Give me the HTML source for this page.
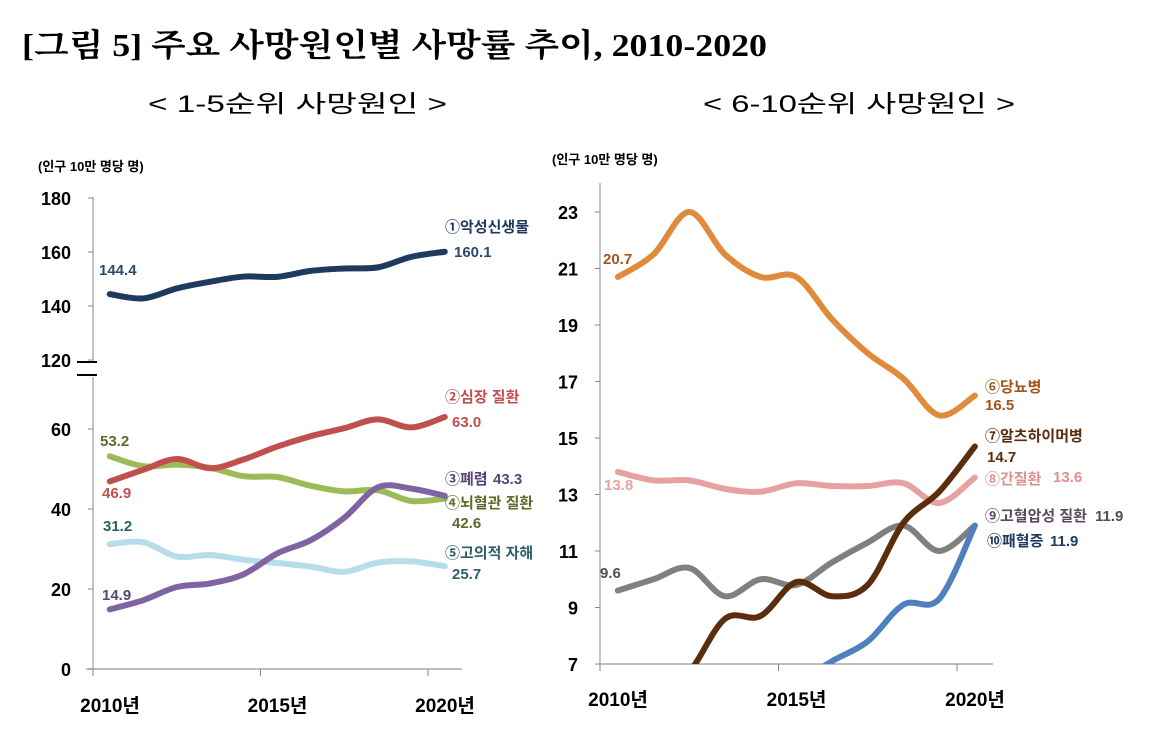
<!DOCTYPE html>
<html><head><meta charset="utf-8"><style>
html,body{margin:0;padding:0;background:#fff;}
svg{display:block;font-family:"Liberation Sans","Noto Sans CJK KR",sans-serif;}
</style></head><body>
<svg id="chart" width="1149" height="747" viewBox="0 0 1149 747" xmlns="http://www.w3.org/2000/svg">
<text x="22" y="56" font-size="32" font-weight="bold" textLength="745" lengthAdjust="spacingAndGlyphs" font-family="Liberation Serif, Noto Serif CJK SC, serif">[그림 5] 주요 사망원인별 사망률 추이, 2010-2020</text>
<text x="148" y="112" font-size="24" textLength="299" lengthAdjust="spacingAndGlyphs">&lt; 1-5순위 사망원인 &gt;</text>
<text x="703" y="112" font-size="24" textLength="312" lengthAdjust="spacingAndGlyphs">&lt; 6-10순위 사망원인 &gt;</text>
<text x="38" y="171" font-size="13" font-weight="bold">(인구 10만 명당 명)</text>
<text x="552" y="164" font-size="13" font-weight="bold">(인구 10만 명당 명)</text>
<g id="left"></g>
<g id="right"></g>
<defs><clipPath id="rclip"><rect x="600" y="170" width="400" height="494"/></clipPath></defs>
</svg>
<script>
const years = ['2010','2011','2012','2013','2014','2015','2016','2017','2018','2019','2020'];
const cancer = [144.4,142.8,146.5,149.0,150.9,150.8,153.0,153.9,154.3,158.2,160.1];
const heart = [46.9,49.8,52.5,50.2,52.4,55.6,58.2,60.2,62.4,60.4,63.0];
const pneumonia = [14.9,17.2,20.5,21.4,23.7,28.9,32.2,37.8,45.4,45.1,43.3];
const cerebro = [53.2,50.7,51.1,50.3,48.2,48.0,45.8,44.4,44.7,42.0,42.6];
const suicide = [31.2,31.7,28.1,28.5,27.3,26.5,25.6,24.3,26.6,26.9,25.7];
const diabetes = [20.7,21.5,23.0,21.5,20.7,20.7,19.2,18.0,17.1,15.8,16.5];
const alzheimer = [4.6,5.6,6.7,8.6,8.7,9.9,9.4,9.8,12.0,13.1,14.7];
const liver = [13.8,13.5,13.5,13.2,13.1,13.4,13.3,13.3,13.4,12.7,13.6];
const hypertension = [9.6,10.0,10.4,9.4,10.0,9.8,10.6,11.3,11.9,11.0,11.9];
const sepsis = [4.0,4.4,4.6,5.0,5.6,6.3,7.1,7.8,9.1,9.3,11.9];
const leftTicksLow = [0,20,40,60];
const leftTicksHigh = [120,140,160,180];
const rightTicks = [7,9,11,13,15,17,19,21,23];
const xTickYears = ['2010년','2015년','2020년'];

const NS='http://www.w3.org/2000/svg';
function mk(parent,tag,attrs,txt){const e=document.createElementNS(NS,tag);for(const k in attrs)e.setAttribute(k,attrs[k]);if(txt!=null)e.textContent=txt;parent.appendChild(e);return e;}
function smooth(pts){let d='M'+pts[0][0]+','+pts[0][1];for(let i=0;i<pts.length-1;i++){const p0=pts[i-1]||pts[i],p1=pts[i],p2=pts[i+1],p3=pts[i+2]||p2;const t=6;d+=' C'+(p1[0]+(p2[0]-p0[0])/t)+','+(p1[1]+(p2[1]-p0[1])/t)+' '+(p2[0]-(p3[0]-p1[0])/t)+','+(p2[1]-(p3[1]-p1[1])/t)+' '+p2[0]+','+p2[1];}return d;}

const lx = i => 93 + (i+0.5)*33.5;
const ly = v => v<=90 ? 669 - v*4 : 360 - (v-120)*2.7;
const rx = i => 600 + (i+0.5)*35.7;
const ry = v => 664 - (v-7)*28.25;

const L=document.getElementById('left');
mk(L,'line',{x1:93,y1:197,x2:93,y2:362,stroke:'#888','stroke-width':1});
mk(L,'line',{x1:93,y1:377,x2:93,y2:669,stroke:'#888','stroke-width':1});
let b1=mk(L,'line',{x1:77,y1:362,x2:97,y2:362,stroke:'#000','stroke-width':2});


let b2=mk(L,'line',{x1:77,y1:375,x2:97,y2:375,stroke:'#000','stroke-width':2});


mk(L,'line',{x1:86,y1:669,x2:462,y2:669,stroke:'#aaa','stroke-width':1.5});
leftTicksLow.concat(leftTicksHigh).forEach(v=>{
  mk(L,'line',{x1:88,y1:ly(v),x2:93,y2:ly(v),stroke:'#888'});
  const t=mk(L,'text',{x:71,y:ly(v)+7,'font-size':18,'font-weight':'bold','text-anchor':'end'},String(v));
  
  
});
[0,5,10].forEach((k,j)=>{
  const x=93+k*33.5;
  mk(L,'line',{x1:x,y1:669,x2:x,y2:676,stroke:'#888'});
  const t=mk(L,'text',{x:x+17,y:712,'font-size':19,'font-weight':'bold','text-anchor':'middle'},xTickYears[j]);
  
  
});
const leftSeries=[
 [cancer,'#1f3a5f','cancer'],[suicide,'#b7dde8','suicide'],[cerebro,'#9bbb59','cerebrovascular'],[heart,'#c0504d','heart-disease'],[pneumonia,'#8064a2','pneumonia']];
leftSeries.forEach(s=>{
  const p=mk(L,'path',{d:smooth(s[0].map((v,i)=>[lx(i),ly(v)])),fill:'none',stroke:s[1],'stroke-width':6,'stroke-linecap':'round'});
  
  
});
function lab(g,x,y,txt,col,name,size){const t=mk(g,'text',{x:x,y:y,'font-size':size||15,'font-weight':'bold',fill:col},txt);return t;}
lab(L,99,275,cancer[0].toFixed(1),'#2d4a6b','label-cancer-start');
lab(L,445,232,'①악성신생물','#1f3a5f','legend-cancer');
lab(L,454,257,cancer[10].toFixed(1),'#2d4a6b','label-cancer-end');
lab(L,445,402,'②심장 질환','#c0504d','legend-heart');
lab(L,452,427,heart[10].toFixed(1),'#c0504d','label-heart-end');
lab(L,102,498,heart[0].toFixed(1),'#c0504d','label-heart-start');
lab(L,100,446,cerebro[0].toFixed(1),'#5a6b2a','label-cerebro-start');
lab(L,445,484,'③폐렴','#5a4478','legend-pneumonia');
lab(L,493,484,pneumonia[10].toFixed(1),'#5a4478','label-pneumonia-end');
lab(L,445,508,'④뇌혈관 질환','#5a6b2a','legend-cerebro');
lab(L,452,528,cerebro[10].toFixed(1),'#5a6b2a','label-cerebro-end');
lab(L,103,531,suicide[0].toFixed(1),'#2e5f6b','label-suicide-start');
lab(L,445,558,'⑤고의적 자해','#2e5f6b','legend-suicide');
lab(L,452,579,suicide[10].toFixed(1),'#2e5f6b','label-suicide-end');
lab(L,102,600,pneumonia[0].toFixed(1),'#5a4478','label-pneumonia-start');

const R=document.getElementById('right');
mk(R,'line',{x1:600,y1:183,x2:600,y2:664,stroke:'#888'});
mk(R,'line',{x1:600,y1:664,x2:993,y2:664,stroke:'#aaa','stroke-width':1.5});
rightTicks.forEach(v=>{
  mk(R,'line',{x1:595,y1:ry(v),x2:600,y2:ry(v),stroke:'#888'});
  const t=mk(R,'text',{x:578,y:ry(v)+7,'font-size':18,'font-weight':'bold','text-anchor':'end'},String(v));
  
  
});
[0,5,10].forEach((k,j)=>{
  const x=600+k*35.7;
  mk(R,'line',{x1:x,y1:664,x2:x,y2:671,stroke:'#888'});
  const t=mk(R,'text',{x:x+18,y:706,'font-size':19,'font-weight':'bold','text-anchor':'middle'},xTickYears[j]);
  
  
});
const cg=mk(R,'g',{'clip-path':'url(#rclip)'});
const rightSeries=[[liver,'#e6a2a2','liver'],[hypertension,'#808080','hypertension'],[sepsis,'#4f81bd','sepsis'],[diabetes,'#e08a3c','diabetes'],[alzheimer,'#5a2d0c','alzheimer']];
rightSeries.forEach(s=>{
  const p=mk(cg,'path',{d:smooth(s[0].map((v,i)=>[rx(i),ry(v)])),fill:'none',stroke:s[1],'stroke-width':6,'stroke-linecap':'round'});
  
  
});
lab(R,603,264,diabetes[0].toFixed(1),'#a0561c','label-diabetes-start');
lab(R,985,392,'⑥당뇨병','#a0561c','legend-diabetes');
lab(R,985,410,diabetes[10].toFixed(1),'#a0561c','label-diabetes-end');
lab(R,985,441,'⑦알츠하이머병','#5a2d0c','legend-alzheimer');
lab(R,987,462,alzheimer[10].toFixed(1),'#5a2d0c','label-alzheimer-end');
lab(R,604,490,liver[0].toFixed(1),'#e6a2a2','label-liver-start');
lab(R,985,484,'⑧간질환','#e08f8f','legend-liver');
lab(R,1053,482,liver[10].toFixed(1),'#e08f8f','label-liver-end');
lab(R,600,578,hypertension[0].toFixed(1),'#5a4a5f','label-hypertension-start');
lab(R,985,521,'⑨고혈압성 질환','#5a4a5f','legend-hypertension');
lab(R,1095,521,hypertension[10].toFixed(1),'#5a4a5f','label-hypertension-end');
lab(R,987,546,'⑩패혈증','#1f3a5f','legend-sepsis');
lab(R,1050,546,sepsis[10].toFixed(1),'#1f3a5f','label-sepsis-end');
</script>
</body></html>
